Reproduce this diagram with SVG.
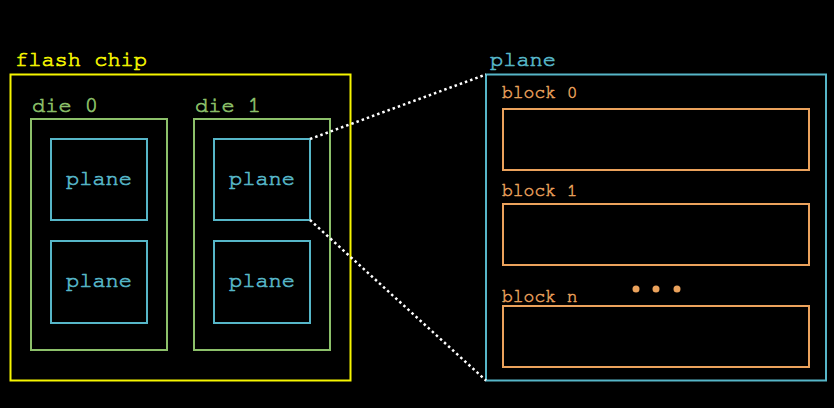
<svg xmlns="http://www.w3.org/2000/svg" width="834" height="408" viewBox="0 0 834 408">
<style>
text{font-family:"Nimbus Mono PS","FreeMono","Courier New",Courier,"Liberation Mono",monospace;stroke-width:0.7}
.chip{fill:none;stroke:#f5f500;stroke-width:2}
.die{fill:none;stroke:#8cc06a;stroke-width:2}
.pl{fill:none;stroke:#56b6c8;stroke-width:2}
.blk{fill:none;stroke:#eba25c;stroke-width:2}
.tchip{fill:#f5f500;stroke:#f5f500;font-size:22px}
.tdie{fill:#8cc06a;stroke:#8cc06a;font-size:22px}
.tpl{fill:#56b6c8;stroke:#56b6c8;font-size:22px}
.tblk{fill:#eba25c;stroke:#eba25c;font-size:18px;stroke-width:0.5}
.conn{fill:none;stroke:#ffffff;stroke-width:2.5;stroke-dasharray:2.5 3}
</style>
<rect width="834" height="408" fill="#000"/>
<g id="flash-chip">
<rect class="chip" x="10.5" y="74.5" width="340" height="306"/>
<text class="tchip" x="15" y="66">flash chip</text>
</g>
<g id="die0">
<rect class="die" x="31" y="119" width="136" height="231"/>
<text class="tdie" x="32" y="112">die 0</text>
</g>
<g id="die1">
<rect class="die" x="194" y="119" width="136" height="231"/>
<text class="tdie" x="195" y="112">die 1</text>
</g>
<g id="plane-0-0">
<rect class="pl" x="51" y="139" width="96" height="81"/>
<text class="tpl" x="99" y="185" text-anchor="middle">plane</text>
</g>
<g id="plane-0-1">
<rect class="pl" x="51" y="241" width="96" height="82"/>
<text class="tpl" x="99" y="287" text-anchor="middle">plane</text>
</g>
<g id="plane-1-0">
<rect class="pl" x="214" y="139" width="96" height="81"/>
<text class="tpl" x="262" y="185" text-anchor="middle">plane</text>
</g>
<g id="plane-1-1">
<rect class="pl" x="214" y="241" width="96" height="82"/>
<text class="tpl" x="262" y="287" text-anchor="middle">plane</text>
</g>
<g id="plane-detail">
<rect class="pl" x="486" y="74.5" width="340" height="306"/>
<text class="tpl" x="490" y="66">plane</text>
</g>
<g id="block0">
<rect class="blk" x="503" y="109" width="306" height="61"/>
<text class="tblk" x="502" y="98">block 0</text>
</g>
<g id="block1">
<rect class="blk" x="503" y="204" width="306" height="61"/>
<text class="tblk" x="502" y="196">block 1</text>
</g>
<g id="blockn">
<rect class="blk" x="503" y="306" width="306" height="61"/>
<text class="tblk" x="502" y="302">block n</text>
</g>
<g id="ellipsis" fill="#eba25c">
<circle cx="636" cy="289" r="3.5"/>
<circle cx="656" cy="289" r="3.5"/>
<circle cx="677" cy="289" r="3.5"/>
</g>
<g id="connectors">
<line class="conn" x1="310" y1="139" x2="486" y2="74.5"/>
<line class="conn" x1="310" y1="220" x2="486" y2="380.5"/>
</g>
</svg>
